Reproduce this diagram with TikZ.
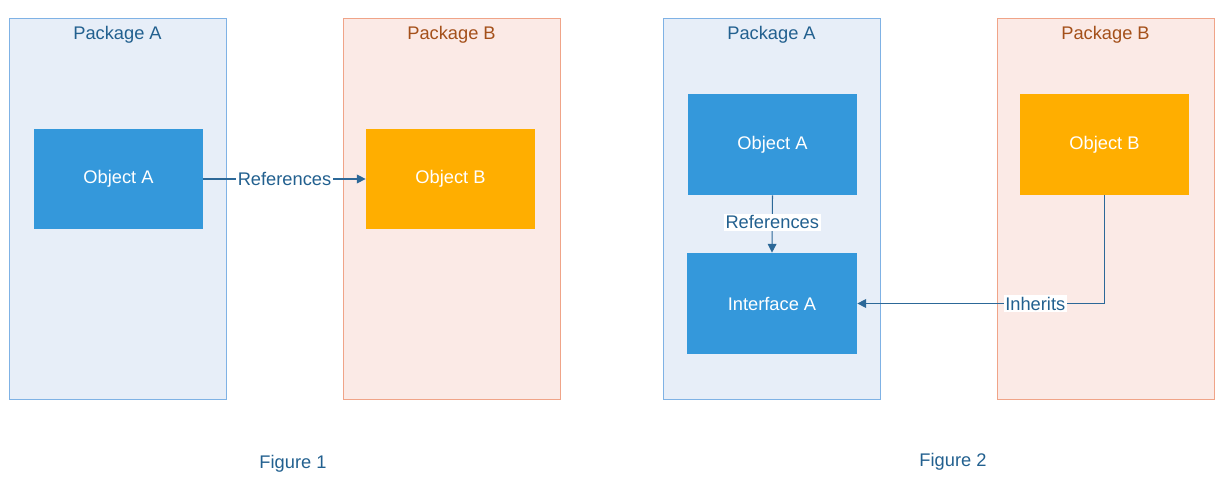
\documentclass[tikz,border=0pt]{standalone}
\usepackage{fontspec}
\setmainfont{Liberation Sans}
\usetikzlibrary{arrows.meta}
\definecolor{pkgAfill}{HTML}{E7EEF8}
\definecolor{pkgAline}{HTML}{7FB2E5}
\definecolor{pkgBfill}{HTML}{FBEAE6}
\definecolor{pkgBline}{HTML}{F0A488}
\definecolor{objblue}{HTML}{3498DB}
\definecolor{objorange}{HTML}{FFAE00}
\definecolor{darkblue}{HTML}{22608F}
\definecolor{brownt}{HTML}{A4501A}
\definecolor{linec}{HTML}{2C6898}
\begin{document}
\begin{tikzpicture}[x=0.02cm,y=-0.02cm,
  every node/.style={font=\fontsize{10.4}{12}\selectfont},
  pkga/.style={draw=pkgAline,fill=pkgAfill,line width=0.45pt},
  pkgb/.style={draw=pkgBline,fill=pkgBfill,line width=0.45pt},
  obj/.style={fill=objblue,text=white,inner sep=0pt},
  objb/.style={fill=objorange,text=white,inner sep=0pt},
  conn/.style={draw=linec,line width=0.6pt,-{Triangle[length=5pt,width=5pt]}},
  lbl/.style={text=darkblue,fill=white,inner sep=1pt}]
\useasboundingbox (0,0) rectangle (1228,502);
% Figure 1
\draw[pkga] (9,18) rectangle (226,399);
\draw[pkgb] (343,18) rectangle (560,399);
\node[text=darkblue] (pa1) at (117.5,34.5) {Package A};
\node[text=brownt] (pb1) at (451.5,34.5) {Package B};
\node[obj,minimum width=169*0.02cm,minimum height=100*0.02cm] (oa1) at (118.5,179) {Object A};
\node[objb,minimum width=169*0.02cm,minimum height=100*0.02cm] (ob1) at (450.5,179) {Object B};
\draw[conn] (oa1.east) -- node[lbl] {References} (ob1.west);
\node[text=darkblue] (f1) at (293,463.5) {Figure 1};
% Figure 2
\draw[pkga] (663,18) rectangle (880,399);
\draw[pkgb] (997,18) rectangle (1214,399);
\node[text=darkblue] (pa2) at (771.5,34.5) {Package A};
\node[text=brownt] (pb2) at (1105.5,34.5) {Package B};
\node[obj,minimum width=169*0.02cm,minimum height=101*0.02cm] (oa2) at (772.5,144.5) {Object A};
\node[objb,minimum width=169*0.02cm,minimum height=101*0.02cm] (ob2) at (1104.5,144.5) {Object B};
\node[obj,minimum width=170*0.02cm,minimum height=101*0.02cm] (ia2) at (772,303.5) {Interface A};
\draw[conn] (oa2.south) -- node[lbl,pos=0.47] {References} (ia2.north);
\coordinate (corner) at (ob2.south |- ia2.east);
\draw[conn] (ob2.south) -- (corner) -- node[lbl,pos=0.28] {Inherits} (ia2.east);
\node[text=darkblue] (f2) at (953,461.5) {Figure 2};
\end{tikzpicture}
\end{document}
